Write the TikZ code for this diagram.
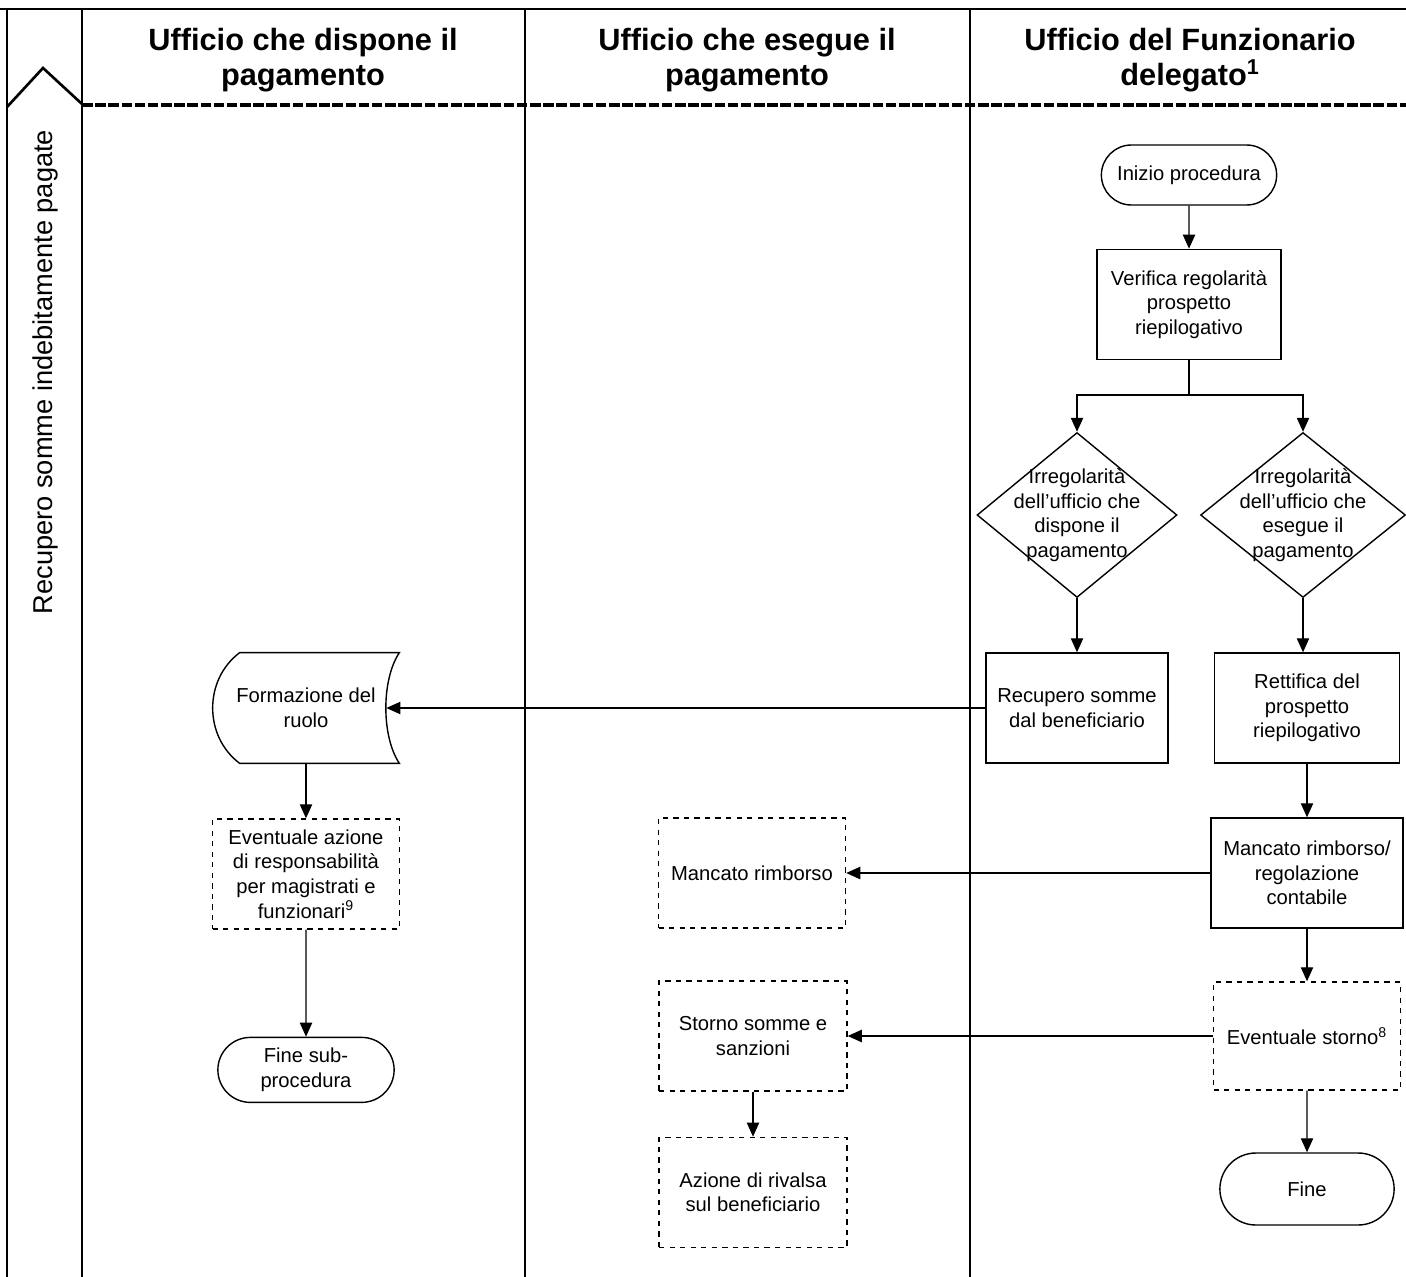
\documentclass[tikz,border=0pt]{standalone}
\usepackage{fontspec}
\setmainfont{Liberation Sans}
\usetikzlibrary{positioning}
\usetikzlibrary{shapes,arrows.meta}
\usetikzlibrary{calc}
\tikzset{
	process/.style={
		rectangle,
		draw,
		line width=.8pt,
		align=center,
		minimum width=3.7cm,
		minimum height=2.2cm,
		inner sep=2pt,
		font=\fontsize{11.5}{14}\selectfont
	},
	optional/.style={process, dashed},
	terminal/.style={
		rounded rectangle,
		draw,
		line width=.8pt,
		align=center,
		minimum width=3.74cm,
		minimum height=1.2cm,
		font=\fontsize{11.5}{14}\selectfont
	},
	decision/.style={
		diamond,
		draw,
		line width=.8pt,
		minimum width=4cm,
		minimum height=3.3cm,
		inner sep=0pt
	},
	decisiontext/.style={align=center, font=\fontsize{11.5}{14}\selectfont},
	flow/.style={-{Triangle[length=8pt,width=7pt]}, line width=.8pt},
	header/.style={align=center, font=\fontsize{17.5}{20}\selectfont\bfseries},
	lane/.style={line width=1pt}
}

\begin{document}
\begin{tikzpicture}[x=0.02cm, y=-0.02cm]
		\useasboundingbox (0,0) rectangle (1406,1277);
		% swimlanes
		\draw[line width=1.5pt] (0,9) -- (1406,9);
		\draw[lane] (7,9) -- (7,1277);
		\draw[lane] (82,9) -- (82,1277);
		\draw[lane] (525,9) -- (525,1277);
		\draw[lane] (970,9) -- (970,1277);
		\draw[line width=1.5pt] (7,107) -- (43,68) -- (82,104);
		\draw[line width=1.8pt, dash pattern=on 6pt off 1.5pt] (82,105) -- (1406,105);
		\draw node[header](HeadDispone) at (303,60){Ufficio che dispone il\\pagamento};
		\draw node[header](HeadEsegue) at (747,60){Ufficio che esegue il\\pagamento};
		\draw node[header](HeadDelegato) at (1190,60){Ufficio del Funzionario\\delegato\textsuperscript{1}};
		\draw node[rotate=90, font=\fontsize{15.5}{18}\selectfont](Lane) at (45,372){Recupero somme indebitamente pagate};
		
		% funzionario delegato
		\draw node[terminal](Inizio) at (1189,175){Inizio procedura};
		\draw node[process, minimum width=3.68cm, below=0.86cm of Inizio](Verifica){Verifica regolarità\\prospetto\\riepilogativo};
		\draw node[decision](IrrDispone) at (1077,515){};
		\draw node[decisiontext] at (IrrDispone.center){Irregolarità\\dell'ufficio che\\dispone il\\pagamento};
		\draw node[decision, minimum width=4.1cm](IrrEsegue) at (1303,515){};
		\draw node[decisiontext] at (IrrEsegue.center){Irregolarità\\dell'ufficio che\\esegue il\\pagamento};
		\draw node[process, minimum width=3.64cm] (Recupero) at (1077,708){Recupero somme\\dal beneficiario};
		\draw node[process] (Rettifica) at (1307,708){Rettifica del\\prospetto\\riepilogativo};
		\draw node[process, minimum width=3.84cm] (MancatoReg) at (1307,873){Mancato rimborso/\\regolazione\\contabile};
		\draw node[optional, minimum width=3.74cm, minimum height=2.16cm] (EvStorno) at (1307,1036){Eventuale storno\textsuperscript{8}};
		\draw node[terminal, minimum width=3.72cm, minimum height=1.44cm] (Fine) at (1307,1189){Fine};
		
		% ufficio che esegue
		\draw node[optional, minimum width=3.74cm] (Mancato) at (752,873){Mancato rimborso};
		\draw node[optional, minimum width=3.76cm] (Storno) at (753,1036){Storno somme e\\sanzioni};
		\draw node[optional, minimum width=3.76cm, below=0.9cm of Storno](Rivalsa){Azione di rivalsa\\sul beneficiario};
		
		% ufficio che dispone
		\draw node[rectangle, align=center, minimum width=3.2cm, minimum height=2.2cm, font=\fontsize{11.5}{14}\selectfont] (Ruolo) at (306,708){Formazione del\\ruolo};
		\draw[line width=.8pt] ($(Ruolo.north west)+(14,0)$) -- ($(Ruolo.north east)+(13,0)$)
			.. controls ($(Ruolo.north east)+(-5,27)$) and ($(Ruolo.south east)+(-5,-27)$) .. ($(Ruolo.south east)+(13,0)$)
			-- ($(Ruolo.south west)+(14,0)$)
			.. controls ($(Ruolo.south west)+(-22,-27)$) and ($(Ruolo.north west)+(-22,27)$) .. cycle;
		\draw node[optional, minimum width=3.74cm, below=1.1cm of Ruolo](Azione){Eventuale azione\\di responsabilità\\per magistrati e\\funzionari\textsuperscript{9}};
		\draw node[terminal, minimum width=3.76cm, minimum height=1.3cm, below=2.14cm of Azione](FineSub){Fine sub-\\procedura};
		
		\draw [flow] (Inizio) -- (Verifica);
		\draw [flow] (Verifica.south) -- ++(0,35) -| (IrrDispone.north);
		\draw [flow] (Verifica.south) -- ++(0,35) -| (IrrEsegue.north);
		\draw [flow] (IrrDispone) -- (Recupero);
		\draw [flow] (IrrEsegue.south) -- (IrrEsegue.south |- Rettifica.north);
		\draw [flow] (Rettifica) -- (MancatoReg);
		\draw [flow] (MancatoReg) -- (EvStorno);
		\draw [flow] (EvStorno) -- (Fine);
		\draw [flow] (MancatoReg.west) -- (MancatoReg.west -| Mancato.east);
		\draw [flow] (EvStorno.west) -- (EvStorno.west -| Storno.east);
		\draw [flow] (Storno) -- (Rivalsa);
		\draw [flow] (Recupero.west) -- (Recupero.west -| Ruolo.east);
		\draw [flow] (Ruolo) -- (Azione);
		\draw [flow] (Azione) -- (FineSub);
	\end{tikzpicture}
\end{document}
